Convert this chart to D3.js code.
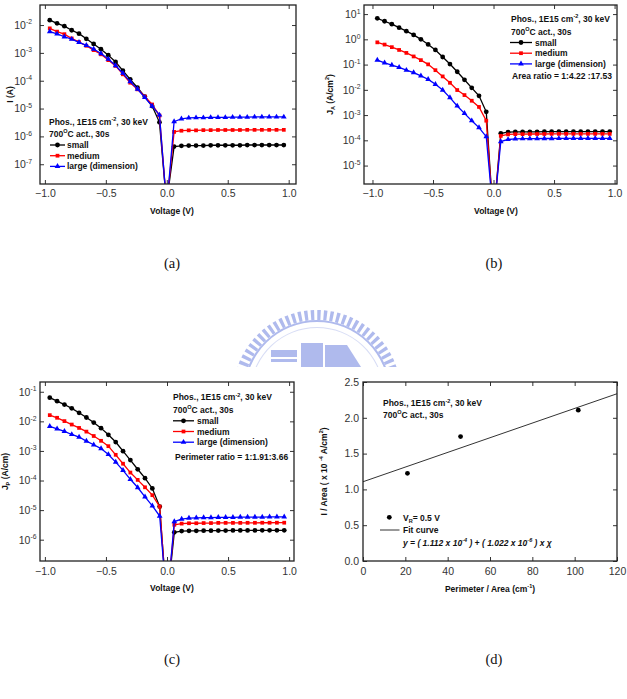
<!DOCTYPE html>
<html>
<head>
<meta charset="utf-8">
<script src="https://cdn.jsdelivr.net/npm/d3@7"></script>
<style>
  body { margin: 0; background: #fff; }
  svg { display: block; font-family: "Liberation Sans", Arial, sans-serif; }
</style>
</head>
<body>
<div id="chart"></div>
<script>
/////////////////////
// Data
/////////////////////
const vNeg = [-0.96, -0.90, -0.84, -0.78, -0.72, -0.66, -0.60, -0.54, -0.48, -0.42, -0.36, -0.30, -0.24, -0.18, -0.12, -0.06];
const vPos = [0.06, 0.12, 0.18, 0.24, 0.30, 0.36, 0.42, 0.48, 0.54, 0.60, 0.66, 0.72, 0.78, 0.84, 0.90, 0.96];
const vDip = [-0.01, 0.01];
const seriesNames = ["small", "medium", "large (dimension)"];

// (a) I (A)
const aSmallNeg = [1.5e-2, 1.15e-2, 9.1e-3, 6.5e-3, 4.9e-3, 3.2e-3, 2.1e-3, 1.35e-3, 8.3e-4, 4.7e-4, 2.3e-4, 1.12e-4, 5.6e-5, 2.7e-5, 1.23e-5, 3.2e-6];
const aSmallPos = [4.3e-7, 4.6e-7, 4.7e-7, 4.7e-7, 4.7e-7, 4.8e-7, 4.8e-7, 4.8e-7, 4.8e-7, 4.8e-7, 4.9e-7, 4.9e-7, 4.9e-7, 4.9e-7, 4.9e-7, 4.9e-7];
const aMediumNeg = [7.6e-3, 5.8e-3, 4.7e-3, 3.3e-3, 2.45e-3, 1.8e-3, 1.26e-3, 8.9e-4, 5.5e-4, 3.4e-4, 1.7e-4, 8.5e-5, 4.9e-5, 2.7e-5, 1.4e-5, 5.6e-6];
const aMediumPos = [1.45e-6, 1.6e-6, 1.65e-6, 1.65e-6, 1.68e-6, 1.68e-6, 1.7e-6, 1.7e-6, 1.7e-6, 1.7e-6, 1.72e-6, 1.72e-6, 1.72e-6, 1.72e-6, 1.72e-6, 1.72e-6];
const aLargeNeg = [5.8e-3, 4.8e-3, 3.8e-3, 3.1e-3, 2.4e-3, 1.86e-3, 1.38e-3, 9.5e-4, 6.0e-4, 3.5e-4, 1.86e-4, 9.3e-5, 5.0e-5, 2.5e-5, 1.23e-5, 5.9e-6];
const aLargePos = [3.4e-6, 4.3e-6, 4.6e-6, 4.7e-6, 4.7e-6, 4.8e-6, 4.8e-6, 4.8e-6, 4.9e-6, 4.9e-6, 4.9e-6, 5.0e-6, 5.0e-6, 5.0e-6, 5.0e-6, 5.0e-6];
const aDip = 1e-8;

// (b) J_A (A/cm^2)
const bSmallNeg = [6.8, 5.2, 4.0, 2.9, 2.1, 1.5, 1.0, 0.63, 0.38, 0.20, 0.105, 0.052, 0.025, 0.012, 5.8e-3, 1.35e-3];
const bSmallPos = [1.9e-4, 2.1e-4, 2.15e-4, 2.15e-4, 2.18e-4, 2.18e-4, 2.2e-4, 2.2e-4, 2.2e-4, 2.2e-4, 2.22e-4, 2.22e-4, 2.22e-4, 2.22e-4, 2.22e-4, 2.22e-4];
const bMediumNeg = [0.76, 0.62, 0.49, 0.38, 0.29, 0.21, 0.15, 0.102, 0.060, 0.034, 0.019, 9.8e-3, 6.2e-3, 3.7e-3, 2.1e-3, 6.0e-4];
const bMediumPos = [1.5e-4, 1.72e-4, 1.76e-4, 1.76e-4, 1.78e-4, 1.78e-4, 1.78e-4, 1.8e-4, 1.8e-4, 1.8e-4, 1.8e-4, 1.8e-4, 1.8e-4, 1.8e-4, 1.8e-4, 1.8e-4];
const bLargeNeg = [0.15, 0.117, 0.095, 0.078, 0.060, 0.048, 0.036, 0.026, 0.0166, 9.8e-3, 4.9e-3, 2.3e-3, 1.17e-3, 6.0e-4, 3.2e-4, 1.4e-4];
const bLargePos = [8.9e-5, 1.08e-4, 1.14e-4, 1.16e-4, 1.17e-4, 1.17e-4, 1.18e-4, 1.18e-4, 1.19e-4, 1.19e-4, 1.2e-4, 1.2e-4, 1.2e-4, 1.2e-4, 1.2e-4, 1.2e-4];
const bDip = 3e-7;

// (c) J_P (A/cm)
const cSmallNeg = [0.063, 0.048, 0.037, 0.0275, 0.0195, 0.0135, 9.1e-3, 5.9e-3, 3.5e-3, 2.0e-3, 9.8e-4, 4.9e-4, 2.4e-4, 1.2e-4, 5.4e-5, 1.32e-5];
const cSmallPos = [1.78e-6, 1.95e-6, 2.0e-6, 2.0e-6, 2.02e-6, 2.02e-6, 2.04e-6, 2.04e-6, 2.05e-6, 2.05e-6, 2.06e-6, 2.06e-6, 2.07e-6, 2.07e-6, 2.08e-6, 2.08e-6];
const cMediumNeg = [1.62e-2, 1.32e-2, 1.02e-2, 7.8e-3, 6.0e-3, 4.5e-3, 3.2e-3, 2.2e-3, 1.45e-3, 7.4e-4, 3.7e-4, 1.86e-4, 1.05e-4, 5.9e-5, 3.2e-5, 1.32e-5];
const cMediumPos = [3.2e-6, 3.5e-6, 3.6e-6, 3.6e-6, 3.65e-6, 3.65e-6, 3.7e-6, 3.7e-6, 3.7e-6, 3.7e-6, 3.72e-6, 3.72e-6, 3.74e-6, 3.74e-6, 3.75e-6, 3.75e-6];
const cLargeNeg = [6.8e-3, 5.6e-3, 4.6e-3, 3.6e-3, 2.95e-3, 2.15e-3, 1.62e-3, 1.2e-3, 7.6e-4, 4.2e-4, 2.2e-4, 1.1e-4, 5.8e-5, 2.8e-5, 1.4e-5, 6.3e-6];
const cLargePos = [4.1e-6, 5.0e-6, 5.4e-6, 5.5e-6, 5.6e-6, 5.6e-6, 5.7e-6, 5.7e-6, 5.7e-6, 5.8e-6, 5.8e-6, 5.8e-6, 5.8e-6, 5.9e-6, 5.9e-6, 5.9e-6];
const cDip = 2e-8;

// (d) I / Area versus Perimeter / Area
const dPerimArea = [21.0, 46.1, 101.7];
const dCurrentArea = [1.224, 1.738, 2.107];
const dFitX = [0, 120];
const dFitY = [1.107, 2.336];

// tick labels
const vTicks = [-1, -0.5, 0, 0.5, 1];
const aDecades = [1e-7, 1e-6, 1e-5, 1e-4, 1e-3, 1e-2];
const bDecades = [1e-5, 1e-4, 1e-3, 1e-2, 1e-1, 1, 10];
const cDecades = [1e-6, 1e-5, 1e-4, 1e-3, 1e-2, 1e-1];
const dXTicks = [0, 20, 40, 60, 80, 100, 120];
const dYTicks = [0, 0.5, 1.0, 1.5, 2.0, 2.5];

/////////////////////
// Page
/////////////////////
const svg = d3.select("#chart").append("svg")
  .attr("width", 627)
  .attr("height", 699);

const colors = ["#000000", "#ff0000", "#0000ff"];
const shapes = [d3.symbolCircle, d3.symbolSquare, d3.symbolTriangle];
const shapeSizes = [18, 14, 14];
const textCol = "#333";

// text with sub/superscripts: parts = [[text, kind], ...]
function rich(sel, parts, fs) {
  const off = k => (k === "sup" ? -fs * 0.42 : k === "sub" ? fs * 0.28 : 0);
  parts.forEach(([t, k], i) => {
    const prev = i > 0 ? parts[i - 1][1] : "";
    const ts = sel.append("tspan").text(t);
    const dy = off(k) - off(prev);
    if (dy) ts.attr("dy", dy);
    if (k) ts.attr("font-size", fs * 0.65);
  });
  return sel;
}

function label(g, x, y, parts, opts = {}) {
  const fs = opts.fs || 8.5;
  const t = g.append("text")
    .attr("x", x).attr("y", y)
    .attr("font-size", fs)
    .attr("font-weight", opts.weight || "bold")
    .attr("fill", opts.fill || "#111")
    .attr("text-anchor", opts.anchor || "start");
  if (opts.italic) t.attr("font-style", "italic");
  if (opts.rotate) t.attr("transform", `rotate(-90, ${x}, ${y})`);
  return rich(t, parts, fs);
}

function styleAxis(g) {
  g.attr("font-size", null).attr("font-family", null);
  g.select(".domain").remove();
  g.selectAll(".tick line").attr("stroke", "#333").attr("stroke-width", 1);
  g.selectAll(".tick text").attr("fill", textCol).attr("font-size", 10.5);
}

// frame + mirrored inward ticks
function frame(g, x, y, o, xTicks, yTicks, xFmt, yLog) {
  const xa = g.append("g").attr("transform", `translate(0, ${o.b})`)
    .call(d3.axisBottom(x).tickValues(xTicks).tickSize(-4).tickPadding(o.xPad).tickFormat(xFmt));
  styleAxis(xa);
  const xt = g.append("g").attr("transform", `translate(0, ${o.t})`)
    .call(d3.axisTop(x).tickValues(xTicks).tickSize(-4).tickFormat(""));
  styleAxis(xt);

  const ya = g.append("g").attr("transform", `translate(${o.l}, 0)`)
    .call(d3.axisLeft(y).tickValues(yTicks).tickSize(-4).tickPadding(o.yPad)
      .tickFormat(yLog ? "" : d3.format(".1f")));
  styleAxis(ya);
  if (yLog) {
    ya.selectAll(".tick text").each(function (d) {
      const e = Math.round(Math.log10(d));
      rich(d3.select(this), [["10", ""], [String(e), "sup"]], 10.5);
    });
  }
  const yr = g.append("g").attr("transform", `translate(${o.r}, 0)`)
    .call(d3.axisRight(y).tickValues(yTicks).tickSize(-4).tickFormat(""));
  styleAxis(yr);

  g.append("rect")
    .attr("x", o.l).attr("y", o.t)
    .attr("width", o.r - o.l).attr("height", o.b - o.t)
    .attr("fill", "none").attr("stroke", "#222").attr("stroke-width", 1.3);
}

/////////////////////
// Watermark (school logo, partly covered by the lower panels)
/////////////////////
svg.append("clipPath").attr("id", "logoClip")
  .append("rect").attr("x", 0).attr("y", 0).attr("width", 627).attr("height", 367);
const logo = svg.append("g")
  .attr("clip-path", "url(#logoClip)")
  .append("g")
  .attr("transform", "translate(317, 394)")
  .attr("fill", "#a7b3ec")
  .attr("opacity", 0.9);
const toothArc = d3.arc().innerRadius(74).outerRadius(84);
d3.range(-86, 87, 4.6).forEach(a => {
  const r = a * Math.PI / 180;
  logo.append("path").attr("d", toothArc({ startAngle: r - 0.021, endAngle: r + 0.021 }));
});
logo.append("path")
  .attr("d", d3.arc().innerRadius(72).outerRadius(74)({ startAngle: -1.55, endAngle: 1.55 }));
logo.append("path")
  .attr("d", d3.arc().innerRadius(66).outerRadius(67)({ startAngle: -1.5, endAngle: 1.5 }))
  .attr("opacity", 0.5);
logo.append("rect").attr("x", -46).attr("y", -44).attr("width", 26).attr("height", 7);
logo.append("rect").attr("x", -46).attr("y", -35).attr("width", 26).attr("height", 3);
logo.append("rect").attr("x", -16).attr("y", -51).attr("width", 22).attr("height", 24);
logo.append("rect").attr("x", 8).attr("y", -49).attr("width", 22).attr("height", 22);
logo.append("path").attr("d", "M30,-49 L44,-27 L30,-27 Z");

/////////////////////
// Log-scale I-V panels
/////////////////////
function logPanel(o) {
  const g = svg.append("g");
  const x = d3.scaleLinear().domain(o.xDom).range([o.l, o.r]);
  const y = d3.scaleLog().domain(o.yDom).range([o.b, o.t]);

  const clipId = "clip" + o.id;
  g.append("clipPath").attr("id", clipId)
    .append("rect").attr("x", o.l).attr("y", o.t)
    .attr("width", o.r - o.l).attr("height", o.b - o.t);
  const plot = g.append("g").attr("clip-path", `url(#${clipId})`);

  const line = d3.line().x(d => x(d[0])).y(d => y(d[1]));

  o.series.forEach((s, i) => {
    const neg = vNeg.map((v, k) => [v, s.neg[k]]);
    const pos = vPos.map((v, k) => [v, s.pos[k]]);
    const all = neg.concat(vDip.map(v => [v, o.dip]), pos);
    plot.append("path")
      .attr("d", line(all))
      .attr("fill", "none")
      .attr("stroke", colors[i])
      .attr("stroke-width", 1.3);
    plot.append("g").selectAll("path")
      .data(neg.concat(pos))
      .join("path")
      .attr("transform", d => `translate(${x(d[0])}, ${y(d[1])})`)
      .attr("d", d3.symbol(shapes[i], shapeSizes[i]))
      .attr("fill", colors[i]);
  });

  frame(g, x, y, o, vTicks, o.decades, d3.format(".1f"), true);

  // axis titles
  label(g, o.xLabelX, o.xLabelY, [["Voltage (V)", ""]], { anchor: "middle" });
  label(g, o.yLabelX, (o.t + o.b) / 2, o.yLabel, { anchor: "middle", rotate: true });

  // legend
  const L = o.legend;
  label(g, L.x, L.y0, [["Phos., 1E15 cm", ""], ["-2", "sup"], [", 30 keV", ""]]);
  label(g, L.x, L.y0 + 12.5, [["700", ""], ["O", "sup"], ["C act., 30s", ""]]);
  seriesNames.forEach((name, i) => {
    const yy = L.y0 + 23.5 + i * 10.7;
    g.append("line")
      .attr("x1", L.lx1).attr("x2", L.lx2)
      .attr("y1", yy - 3).attr("y2", yy - 3)
      .attr("stroke", colors[i]).attr("stroke-width", 1.3);
    g.append("path")
      .attr("transform", `translate(${(L.lx1 + L.lx2) / 2}, ${yy - 3})`)
      .attr("d", d3.symbol(shapes[i], shapeSizes[i]))
      .attr("fill", colors[i]);
    label(g, L.tx, yy, [[name, ""]]);
  });
  if (L.extra) label(g, L.extraX, L.extraY, [[L.extra, ""]]);
}

logPanel({
  id: "a", l: 40, r: 296, t: 5, b: 184,
  xDom: [-1.04, 1.06], yDom: [Math.pow(10, -7.71), Math.pow(10, -1.28)],
  decades: aDecades, xPad: 5.5, yPad: 8, dip: aDip,
  series: [
    { neg: aSmallNeg, pos: aSmallPos },
    { neg: aMediumNeg, pos: aMediumPos },
    { neg: aLargeNeg, pos: aLargePos }
  ],
  xLabelX: 172, xLabelY: 214,
  yLabelX: 13, yLabel: [["I (A)", ""]],
  legend: { x: 49, y0: 124.5, lx1: 50, lx2: 65, tx: 67 }
});

logPanel({
  id: "b", l: 364, r: 617, t: 5, b: 184,
  xDom: [-1.07, 1.02], yDom: [Math.pow(10, -5.73), Math.pow(10, 1.36)],
  decades: bDecades, xPad: 5.5, yPad: 3.5, dip: bDip,
  series: [
    { neg: bSmallNeg, pos: bSmallPos },
    { neg: bMediumNeg, pos: bMediumPos },
    { neg: bLargeNeg, pos: bLargePos }
  ],
  xLabelX: 496, xLabelY: 214,
  yLabelX: 333, yLabel: [["J", ""], ["A", "sub"], [" (A/cm", ""], ["2", "sup"], [")", ""]],
  legend: { x: 511, y0: 22, lx1: 510, lx2: 532, tx: 535,
            extra: "Area ratio = 1:4.22 :17.53", extraX: 512, extraY: 79 }
});

logPanel({
  id: "c", l: 40, r: 294, t: 382, b: 561,
  xDom: [-1.04, 1.04], yDom: [Math.pow(10, -6.72), Math.pow(10, -0.67)],
  decades: cDecades, xPad: 7, yPad: 3.5, dip: cDip,
  series: [
    { neg: cSmallNeg, pos: cSmallPos },
    { neg: cMediumNeg, pos: cMediumPos },
    { neg: cLargeNeg, pos: cLargePos }
  ],
  xLabelX: 172, xLabelY: 591,
  yLabelX: 8, yLabel: [["J", ""], ["P", "sub"], [" (A/cm)", ""]],
  legend: { x: 173, y0: 400.3, lx1: 173, lx2: 194, tx: 197,
            extra: "Perimeter ratio = 1:1.91:3.66", extraX: 175, extraY: 460 }
});

/////////////////////
// (d) linear panel
/////////////////////
(function () {
  const o = { l: 363, r: 617, t: 382, b: 561, xPad: 7, yPad: 4 };
  const g = svg.append("g");
  const x = d3.scaleLinear().domain([0, 120]).range([o.l, o.r]);
  const y = d3.scaleLinear().domain([0, 2.5]).range([o.b, o.t]);

  g.append("path")
    .attr("d", d3.line().x(d => x(d[0])).y(d => y(d[1]))(dFitX.map((v, i) => [v, dFitY[i]])))
    .attr("fill", "none").attr("stroke", "#333").attr("stroke-width", 1);

  g.append("g").selectAll("circle")
    .data(dPerimArea.map((v, i) => [v, dCurrentArea[i]]))
    .join("circle")
    .attr("cx", d => x(d[0])).attr("cy", d => y(d[1]))
    .attr("r", 2.4).attr("fill", "#000");

  frame(g, x, y, o, dXTicks, dYTicks, d3.format("d"), false);

  label(g, 490, 592, [["Perimeter / Area (cm", ""], ["-1", "sup"], [")", ""]], { anchor: "middle" });
  label(g, 327, (o.t + o.b) / 2,
    [["I / Area ( x 10 ", ""], ["-4", "sup"], [" A/cm", ""], ["2", "sup"], [")", ""]],
    { anchor: "middle", rotate: true });

  label(g, 383, 406.3, [["Phos., 1E15 cm", ""], ["-2", "sup"], [", 30 keV", ""]]);
  label(g, 383, 418, [["700", ""], ["O", "sup"], ["C act., 30s", ""]]);

  g.append("circle").attr("cx", 389.3).attr("cy", 517.3).attr("r", 2.4).attr("fill", "#000");
  label(g, 403, 520.5, [["V", ""], ["R", "sub"], ["= 0.5 V", ""]]);
  g.append("line").attr("x1", 380).attr("x2", 399.5).attr("y1", 530).attr("y2", 530)
    .attr("stroke", "#333").attr("stroke-width", 1);
  label(g, 403, 533, [["Fit curve", ""]]);
  label(g, 403, 545.5,
    [["y = ( 1.112 x 10", ""], ["-4", "sup"], [" ) + ( 1.022 x 10", ""], ["-6", "sup"], [" ) x \u03C7", ""]],
    { italic: true });
})();

/////////////////////
// Captions
/////////////////////
[["(a)", 172, 268], ["(b)", 494, 268], ["(c)", 172, 664], ["(d)", 494, 664]].forEach(([t, cx, cy]) => {
  svg.append("text")
    .attr("x", cx).attr("y", cy)
    .attr("text-anchor", "middle")
    .attr("font-family", "'Liberation Serif', 'Times New Roman', serif")
    .attr("font-size", 14.5)
    .attr("fill", "#111")
    .text(t);
});
</script>
</body>
</html>
